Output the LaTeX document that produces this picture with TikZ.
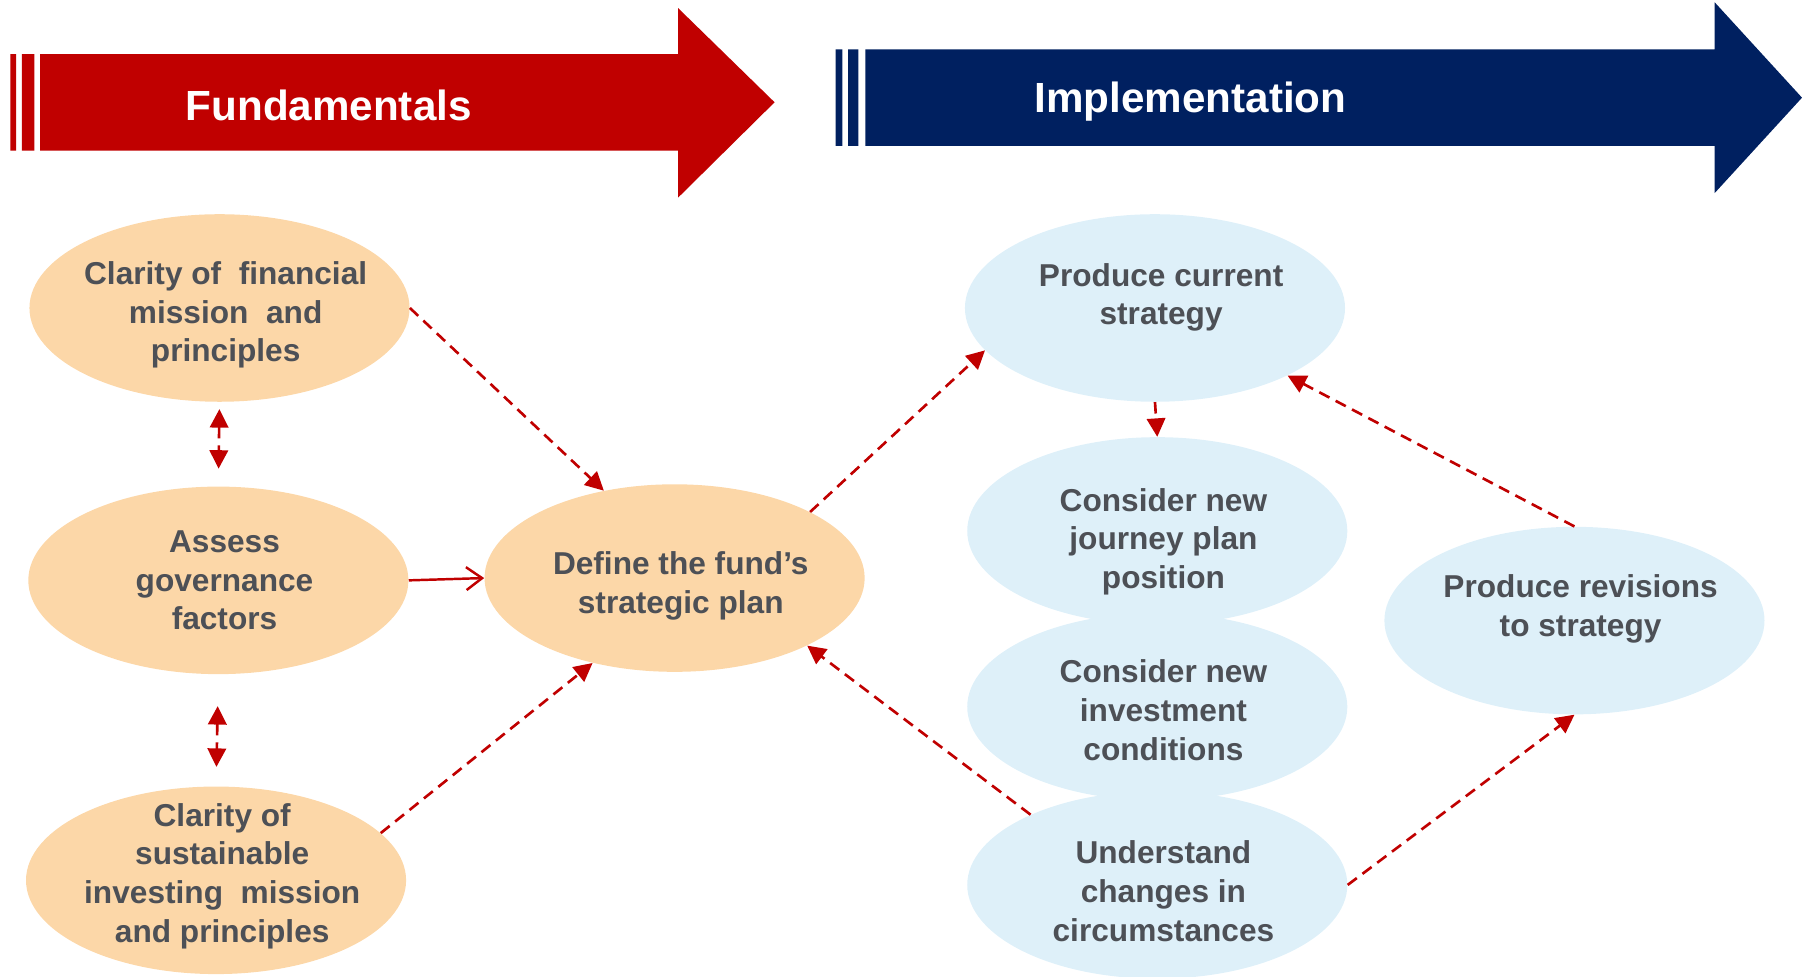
\documentclass[tikz,border=0pt]{standalone}
\usepackage{fontspec}
\setmainfont{Liberation Sans}
\usetikzlibrary{arrows.meta,shapes.geometric,positioning}

\definecolor{bannerred}{RGB}{192,0,0}
\definecolor{bannerblue}{RGB}{0,32,96}
\definecolor{peach}{RGB}{252,215,168}
\definecolor{paleblue}{RGB}{222,240,249}
\definecolor{inkgrey}{RGB}{77,80,86}

\tikzset{
  bubble/.style={ellipse, minimum width=7.6cm, minimum height=3.75cm, inner sep=0pt},
  fund/.style={bubble, fill=peach},
  impl/.style={bubble, fill=paleblue},
  words/.style={align=center, text=inkgrey, xshift=3.5pt,
    font=\fontsize{18}{22}\selectfont\bfseries},
  link/.style={color=bannerred, line width=1.5pt, dash pattern=on 6.5pt off 4pt,
    -{Triangle[length=10.5pt,width=10.5pt]}},
  twoway/.style={link, {Triangle[length=10.5pt,width=10.5pt]}-{Triangle[length=10.5pt,width=10.5pt]}},
  feed/.style={color=bannerred, line width=1.4pt, -{Straight Barb[length=9pt,width=13pt]}},
  banner/.style={font=\fontsize{24}{28}\selectfont\bfseries, text=white}
}

\begin{document}
\begin{tikzpicture}[x=0.022985cm, y=-0.022985cm]
\useasboundingbox (0,0) rectangle (1568,850);

% banner arrows
\fill[bannerred] (9,47) rectangle (14,131) (19,47) rectangle (30,131)
  (35,47) -- (590,47) -- (590,7) -- (674,89) -- (590,172) -- (590,131) -- (35,131) -- cycle;
\fill[bannerblue] (727,43) rectangle (733,127) (738,43) rectangle (747,127)
  (753,43) -- (1492,43) -- (1492,2) -- (1568,85) -- (1492,168) -- (1492,127) -- (753,127) -- cycle;
\node[banner] (fundamentals) at (286,92) {Fundamentals};
\node[banner] (implementation) at (1036,88) {Implementation};

% left column and the plan
\node[fund, label={[words,yshift=-4pt]center:Clarity of~ financial\\mission~ and\\principles}] (mission) at (191,268) {};
\node[fund, label={[words]center:Assess\\governance\\factors}] (govern) at (190,505) {};
\node[fund, label={[words,yshift=2.5pt]center:Clarity of\\sustainable\\investing~ mission\\and principles}] (sustain) at (188,766) {};
\node[fund, label={[words,yshift=-4.5pt]center:Define the fund’s\\strategic plan}] (plan) at (587,503) {};

% implementation loop
\node[impl, label={[words,yshift=6pt]center:Produce current\\strategy}] (current) at (1005,268) {};
\node[impl, label={[words,yshift=-6pt]center:Consider new\\journey plan\\position}] (journey) at (1007,462) {};
\node[impl, label={[words,yshift=-2pt]center:Consider new\\investment\\conditions}] (invest) at (1007,615) {};
\node[impl, label={[words,yshift=-3.5pt]center:Understand\\changes in\\circumstances}] (circum) at (1007,770) {};
\node[impl, label={[words,yshift=6.5pt]center:Produce revisions\\to strategy}] (revise) at (1370,540) {};

\path[link] (mission.east) edge (plan.129)
  (sustain.16) edge (plan.226)
  (plan.26) edge (current.194)
  (current.south) edge (journey.north)
  (circum.151) edge (plan.-27)
  (circum.east) edge (revise.south)
  (revise.north) edge (current.-27);
\path[twoway] (mission.south) edge[shorten <=4pt, shorten >=10pt] (govern.north)
  (govern.south) edge[shorten <=18pt, shorten >=11pt] (sustain.north);
\path[feed] (govern.east) edge (plan.west);
\end{tikzpicture}
\end{document}
